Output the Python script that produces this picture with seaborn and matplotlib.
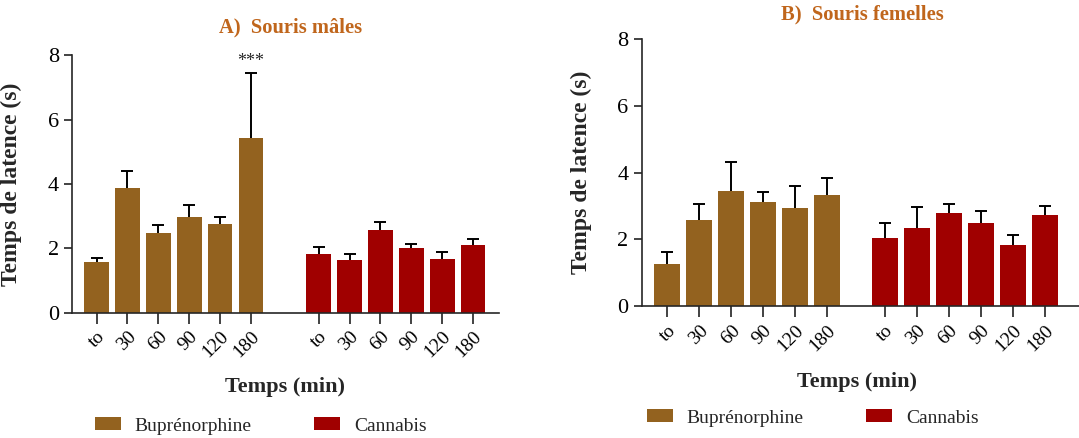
import numpy as np
import pandas as pd
import matplotlib
matplotlib.use("Agg")
import matplotlib.pyplot as plt
import seaborn as sns
from matplotlib.patches import Patch

# Latency (s) per time point, mean and upper error (SEM)
time_labels = ["to", "30", "60", "90", "120", "180"]
groups = ["Buprénorphine", "Cannabis"]

male_bup_mean = [1.58, 3.88, 2.48, 2.98, 2.76, 5.43]
male_bup_err = [0.14, 0.52, 0.24, 0.38, 0.21, 2.00]
male_can_mean = [1.83, 1.64, 2.57, 2.02, 1.67, 2.11]
male_can_err = [0.21, 0.20, 0.25, 0.11, 0.23, 0.18]

female_bup_mean = [1.27, 2.58, 3.45, 3.12, 2.94, 3.33]
female_bup_err = [0.35, 0.49, 0.88, 0.31, 0.67, 0.52]
female_can_mean = [2.04, 2.34, 2.79, 2.49, 1.84, 2.73]
female_can_err = [0.46, 0.63, 0.27, 0.37, 0.29, 0.28]

panel_titles = ["A)  Souris mâles", "B)  Souris femelles"]
colors = {"Buprénorphine": "#93621F", "Cannabis": "#A00000"}
title_color = "#C0661C"

sns.set_style("ticks")
plt.rcParams["font.family"] = ["Liberation Serif", "DejaVu Serif"]
plt.rcParams["axes.linewidth"] = 1.2

fig = plt.figure(figsize=(10.79, 4.38), dpi=100)
ax_m = fig.add_axes([0.0667, 0.2854, 0.3957, 0.589])
ax_f = fig.add_axes([0.5947, 0.3007, 0.4053, 0.610])


def draw_panel(ax, bup_mean, bup_err, can_mean, can_err, offset, xmax):
    pos_b = np.arange(6, dtype=float)
    pos_c = np.arange(6, dtype=float) + offset
    df = pd.DataFrame({
        "pos": np.concatenate([pos_b, pos_c]),
        "val": bup_mean + can_mean,
        "grp": [groups[0]] * 6 + [groups[1]] * 6,
    })
    sns.barplot(data=df, x="pos", y="val", hue="grp", palette=colors,
                native_scale=True, dodge=False, width=0.8, saturation=1,
                linewidth=0, errorbar=None, legend=False, ax=ax)
    means = np.array(bup_mean + can_mean)
    errs = np.array(bup_err + can_err)
    _, caps, _ = ax.errorbar(df["pos"], means, yerr=[np.zeros_like(errs), errs],
                             fmt="none", ecolor="black", elinewidth=1.4,
                             capsize=4, capthick=1.4, zorder=3)
    # keep only the upper cap of each error bar
    for cap in caps:
        if np.allclose(cap.get_ydata(), means):
            cap.set_visible(False)
    ax.set_xlim(-0.8, xmax)
    ax.set_ylim(0, 8)
    ax.set_yticks([0, 2, 4, 6, 8])
    ax.set_xticks(df["pos"])
    ax.set_xticklabels(time_labels * 2, rotation=45, ha="right",
                       rotation_mode="anchor", fontsize=14)
    ax.tick_params(axis="y", labelsize=16, length=6, width=1.2,
                   colors="#222222", labelcolor="black")
    ax.tick_params(axis="x", length=8, width=1.2, pad=3,
                   colors="#222222", labelcolor="black")
    ax.set_xlabel("Temps (min)", fontsize=16, fontweight="bold")
    ax.set_ylabel("Temps de latence (s)", fontsize=17, fontweight="bold")
    sns.despine(ax=ax)
    return df


draw_panel(ax_m, male_bup_mean, male_bup_err, male_can_mean, male_can_err, 7.2, 13.04)
draw_panel(ax_f, female_bup_mean, female_bup_err, female_can_mean, female_can_err, 6.8, 12.87)

ax_m.xaxis.label.set_va("center")
ax_m.xaxis.set_label_coords(0.499, -0.287)
ax_m.yaxis.set_label_coords(-0.117, 0.5)
ax_f.xaxis.label.set_va("center")
ax_f.xaxis.set_label_coords(0.492, -0.283)
ax_f.yaxis.set_label_coords(-0.114, 0.5)

# significance mark over the 180 min buprenorphine bar (males)
ax_m.text(5, male_bup_mean[5] + male_bup_err[5] + 0.12, "***",
          ha="center", va="bottom", fontsize=13)

fig.text(291 / 1079, 1 - 27 / 438, panel_titles[0], ha="center", va="center",
         fontsize=14.8, fontweight="bold", color=title_color)
fig.text(862 / 1079, 1 - 14 / 438, panel_titles[1], ha="center", va="center",
         fontsize=14.8, fontweight="bold", color=title_color)

handles = [Patch(facecolor=colors[g], edgecolor="none", label=g) for g in groups]
for x0, y0 in [(95 / 1079, 1 - 426 / 438), (647 / 1079, 1 - 418 / 438)]:
    fig.legend(handles=handles, loc="center left", bbox_to_anchor=(x0, y0),
               ncol=2, frameon=False, fontsize=14, handlelength=1.35,
               handleheight=0.65, handletextpad=0.7, columnspacing=3.2,
               borderpad=0, borderaxespad=0)

fig.savefig("out.png", dpi=100)
